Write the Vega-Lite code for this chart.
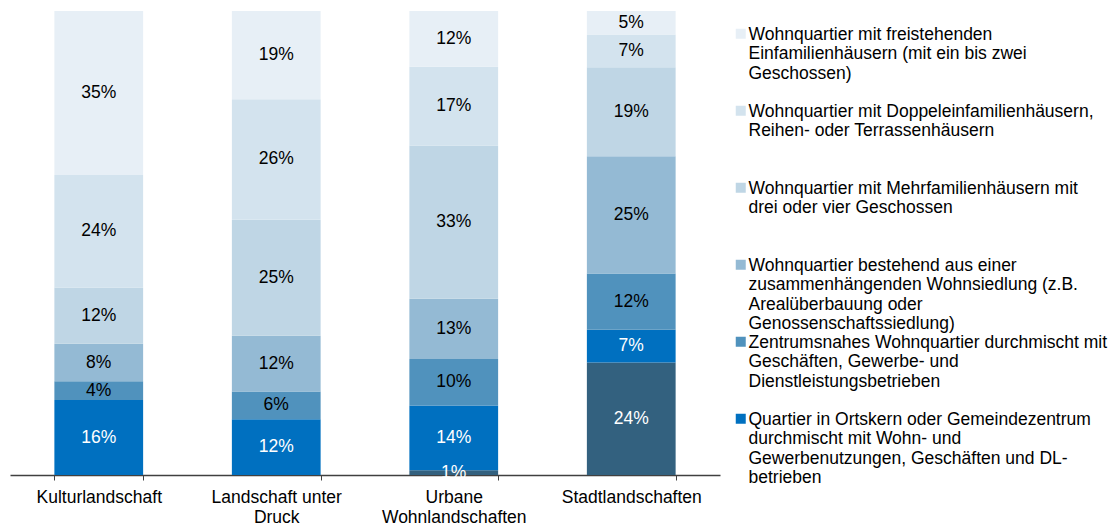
{
  "$schema": "https://vega.github.io/schema/vega-lite/v6.json",
  "width": 710,
  "height": 464,
  "autosize": {"type": "none"},
  "padding": {"left": 10, "top": 11, "right": 400, "bottom": 51},
  "config": {
    "view": {"stroke": null},
    "font": "Liberation Sans",
    "text": {"font": "Liberation Sans"}
  },
  "data": {
    "values": [
      {"region": "Kulturlandschaft", "cat": "Andere", "order": 0, "value": 0},
      {"region": "Kulturlandschaft", "cat": "Quartier in Ortskern oder Gemeindezentrum|durchmischt mit Wohn- und|Gewerbenutzungen, Geschäften und DL-|betrieben", "order": 1, "value": 16},
      {"region": "Kulturlandschaft", "cat": "Zentrumsnahes Wohnquartier durchmischt mit|Geschäften, Gewerbe- und|Dienstleistungsbetrieben", "order": 2, "value": 4},
      {"region": "Kulturlandschaft", "cat": "Wohnquartier bestehend aus einer|zusammenhängenden Wohnsiedlung (z.B.|Arealüberbauung oder|Genossenschaftssiedlung)", "order": 3, "value": 8},
      {"region": "Kulturlandschaft", "cat": "Wohnquartier mit Mehrfamilienhäusern mit|drei oder vier Geschossen", "order": 4, "value": 12},
      {"region": "Kulturlandschaft", "cat": "Wohnquartier mit Doppeleinfamilienhäusern,|Reihen- oder Terrassenhäusern", "order": 5, "value": 24},
      {"region": "Kulturlandschaft", "cat": "Wohnquartier mit freistehenden|Einfamilienhäusern (mit ein bis zwei|Geschossen)", "order": 6, "value": 35},

      {"region": "Landschaft unter Druck", "cat": "Andere", "order": 0, "value": 0},
      {"region": "Landschaft unter Druck", "cat": "Quartier in Ortskern oder Gemeindezentrum|durchmischt mit Wohn- und|Gewerbenutzungen, Geschäften und DL-|betrieben", "order": 1, "value": 12},
      {"region": "Landschaft unter Druck", "cat": "Zentrumsnahes Wohnquartier durchmischt mit|Geschäften, Gewerbe- und|Dienstleistungsbetrieben", "order": 2, "value": 6},
      {"region": "Landschaft unter Druck", "cat": "Wohnquartier bestehend aus einer|zusammenhängenden Wohnsiedlung (z.B.|Arealüberbauung oder|Genossenschaftssiedlung)", "order": 3, "value": 12},
      {"region": "Landschaft unter Druck", "cat": "Wohnquartier mit Mehrfamilienhäusern mit|drei oder vier Geschossen", "order": 4, "value": 25},
      {"region": "Landschaft unter Druck", "cat": "Wohnquartier mit Doppeleinfamilienhäusern,|Reihen- oder Terrassenhäusern", "order": 5, "value": 26},
      {"region": "Landschaft unter Druck", "cat": "Wohnquartier mit freistehenden|Einfamilienhäusern (mit ein bis zwei|Geschossen)", "order": 6, "value": 19},

      {"region": "Urbane Wohnlandschaften", "cat": "Andere", "order": 0, "value": 1},
      {"region": "Urbane Wohnlandschaften", "cat": "Quartier in Ortskern oder Gemeindezentrum|durchmischt mit Wohn- und|Gewerbenutzungen, Geschäften und DL-|betrieben", "order": 1, "value": 14},
      {"region": "Urbane Wohnlandschaften", "cat": "Zentrumsnahes Wohnquartier durchmischt mit|Geschäften, Gewerbe- und|Dienstleistungsbetrieben", "order": 2, "value": 10},
      {"region": "Urbane Wohnlandschaften", "cat": "Wohnquartier bestehend aus einer|zusammenhängenden Wohnsiedlung (z.B.|Arealüberbauung oder|Genossenschaftssiedlung)", "order": 3, "value": 13},
      {"region": "Urbane Wohnlandschaften", "cat": "Wohnquartier mit Mehrfamilienhäusern mit|drei oder vier Geschossen", "order": 4, "value": 33},
      {"region": "Urbane Wohnlandschaften", "cat": "Wohnquartier mit Doppeleinfamilienhäusern,|Reihen- oder Terrassenhäusern", "order": 5, "value": 17},
      {"region": "Urbane Wohnlandschaften", "cat": "Wohnquartier mit freistehenden|Einfamilienhäusern (mit ein bis zwei|Geschossen)", "order": 6, "value": 12},

      {"region": "Stadtlandschaften", "cat": "Andere", "order": 0, "value": 24},
      {"region": "Stadtlandschaften", "cat": "Quartier in Ortskern oder Gemeindezentrum|durchmischt mit Wohn- und|Gewerbenutzungen, Geschäften und DL-|betrieben", "order": 1, "value": 7},
      {"region": "Stadtlandschaften", "cat": "Zentrumsnahes Wohnquartier durchmischt mit|Geschäften, Gewerbe- und|Dienstleistungsbetrieben", "order": 2, "value": 12},
      {"region": "Stadtlandschaften", "cat": "Wohnquartier bestehend aus einer|zusammenhängenden Wohnsiedlung (z.B.|Arealüberbauung oder|Genossenschaftssiedlung)", "order": 3, "value": 25},
      {"region": "Stadtlandschaften", "cat": "Wohnquartier mit Mehrfamilienhäusern mit|drei oder vier Geschossen", "order": 4, "value": 19},
      {"region": "Stadtlandschaften", "cat": "Wohnquartier mit Doppeleinfamilienhäusern,|Reihen- oder Terrassenhäusern", "order": 5, "value": 7},
      {"region": "Stadtlandschaften", "cat": "Wohnquartier mit freistehenden|Einfamilienhäusern (mit ein bis zwei|Geschossen)", "order": 6, "value": 5}
    ]
  },
  "transform": [
    {"filter": "datum.value > 0"},
    {"calculate": "datum.value + '%'", "as": "label"}
  ],
  "encoding": {
    "x": {
      "field": "region",
      "type": "nominal",
      "sort": ["Kulturlandschaft", "Landschaft unter Druck", "Urbane Wohnlandschaften", "Stadtlandschaften"],
      "scale": {"paddingInner": 0.5, "paddingOuter": 0.25},
      "axis": {
        "title": null,
        "labelAngle": 0,
        "labelFontSize": 17.5,
        "labelColor": "#000000",
        "labelFont": "Liberation Sans",
        "labelLineHeight": 20,
        "labelBaseline": "top",
        "labelPadding": 8,
        "labelExpr": "datum.label == 'Landschaft unter Druck' ? ['Landschaft unter', 'Druck'] : datum.label == 'Urbane Wohnlandschaften' ? ['Urbane', 'Wohnlandschaften'] : datum.label",
        "tickBand": "extent",
        "tickSize": 5,
        "tickColor": "#404040",
        "domainColor": "#404040",
        "domainWidth": 1.3,
        "labelLimit": 300
      }
    },
    "y": {
      "field": "value",
      "type": "quantitative",
      "stack": "normalize",
      "axis": null
    },
    "order": {"field": "order", "type": "ordinal"}
  },
  "layer": [
    {
      "mark": {"type": "bar"},
      "encoding": {
        "color": {
          "field": "cat",
          "type": "nominal",
          "scale": {
            "domain": [
              "Andere",
              "Quartier in Ortskern oder Gemeindezentrum|durchmischt mit Wohn- und|Gewerbenutzungen, Geschäften und DL-|betrieben",
              "Zentrumsnahes Wohnquartier durchmischt mit|Geschäften, Gewerbe- und|Dienstleistungsbetrieben",
              "Wohnquartier bestehend aus einer|zusammenhängenden Wohnsiedlung (z.B.|Arealüberbauung oder|Genossenschaftssiedlung)",
              "Wohnquartier mit Mehrfamilienhäusern mit|drei oder vier Geschossen",
              "Wohnquartier mit Doppeleinfamilienhäusern,|Reihen- oder Terrassenhäusern",
              "Wohnquartier mit freistehenden|Einfamilienhäusern (mit ein bis zwei|Geschossen)"
            ],
            "range": ["#33617F", "#0070C0", "#5092BD", "#94BAD4", "#BFD6E5", "#D3E3EE", "#E7EFF6"]
          },
          "legend": {
            "title": null,
            "orient": "none",
            "legendX": 722,
            "legendY": 20,
            "values": [
              "Wohnquartier mit freistehenden|Einfamilienhäusern (mit ein bis zwei|Geschossen)",
              "Wohnquartier mit Doppeleinfamilienhäusern,|Reihen- oder Terrassenhäusern",
              "Wohnquartier mit Mehrfamilienhäusern mit|drei oder vier Geschossen",
              "Wohnquartier bestehend aus einer|zusammenhängenden Wohnsiedlung (z.B.|Arealüberbauung oder|Genossenschaftssiedlung)",
              "Zentrumsnahes Wohnquartier durchmischt mit|Geschäften, Gewerbe- und|Dienstleistungsbetrieben",
              "Quartier in Ortskern oder Gemeindezentrum|durchmischt mit Wohn- und|Gewerbenutzungen, Geschäften und DL-|betrieben"
            ],
            "symbolType": "M-1,-2.2H1V-0.2H-1Z",
            "symbolSize": 100,
            "symbolStrokeWidth": 0,
            "labelExpr": "split(datum.label + slice('|||', 0, 4 - length(split(datum.label, '|'))), '|')",
            "labelFontSize": 17.5,
            "labelFont": "Liberation Sans",
            "labelColor": "#000000",
            "labelLineHeight": 19,
            "labelBaseline": "alphabetic",
            "labelOffset": -1,
            "labelLimit": 400,
            "rowPadding": 0
          }
        }
      }
    },
    {
      "mark": {"type": "text", "fontSize": 17.5, "font": "Liberation Sans"},
      "encoding": {
        "y": {"field": "value", "type": "quantitative", "stack": "normalize", "bandPosition": 0.5},
        "text": {"field": "label"},
        "color": {
          "condition": {"test": "datum.order <= 1", "value": "#FFFFFF"},
          "value": "#000000"
        },
        "yOffset": {
          "condition": {"test": "datum.value <= 1", "value": -3},
          "value": 0
        }
      }
    }
  ]
}
